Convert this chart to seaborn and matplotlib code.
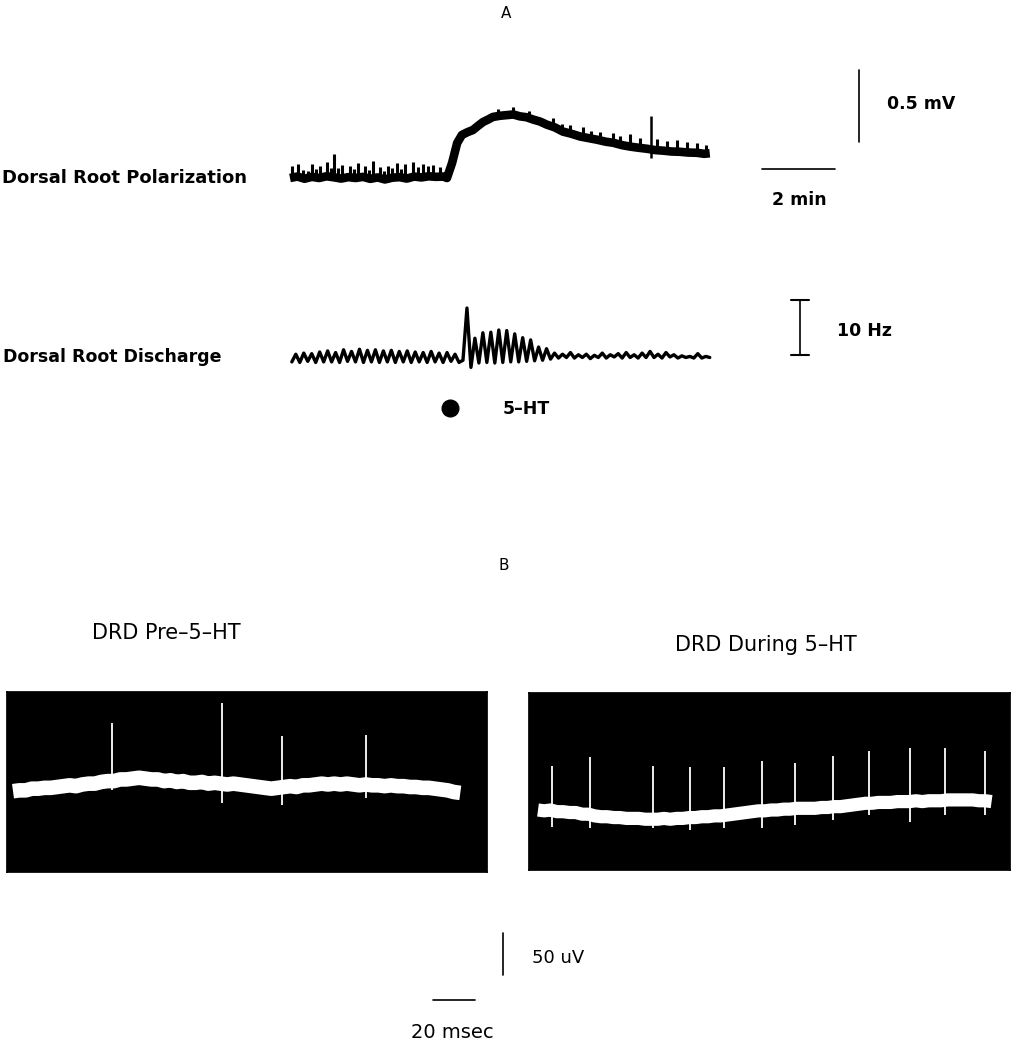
import numpy as np
import matplotlib
matplotlib.use("Agg")
import matplotlib.pyplot as plt
import seaborn as sns

sns.set_theme(style="white")
plt.rcParams['font.family'] = ['DejaVu Sans']

# ---------------- DATA ----------------
# Panel A: dorsal root polarization, time in min, value in mV
pol_t = [0.0, 0.2, 0.4, 0.6, 0.8, 1.0, 1.2, 1.4, 1.6, 1.8, 2.0, 2.2, 2.4, 2.6, 2.8, 3.0,
         3.2, 3.4, 3.6, 3.8, 4.0, 4.2, 4.30, 4.44, 4.58, 4.71, 4.86, 5.01, 5.15, 5.29,
         5.42, 5.56, 5.75, 5.95, 6.12, 6.30, 6.48, 6.66, 6.85, 7.04, 7.25, 7.48, 7.70,
         7.95, 8.20, 8.41, 8.65, 8.85, 9.10, 9.32, 9.55, 9.78, 10.0, 10.22, 10.45, 10.68,
         10.90, 11.15, 11.35, 11.5]
pol_v = [0.0, 0.01, -0.005, 0.008, 0.0, 0.012, 0.005, -0.004, 0.006, 0.0, 0.008, -0.006,
         0.004, -0.01, 0.002, 0.006, -0.004, 0.01, 0.004, 0.012, 0.008, 0.01, 0.0, 0.104,
         0.243, 0.299, 0.318, 0.333, 0.362, 0.389, 0.405, 0.424, 0.432, 0.437, 0.441, 0.428,
         0.422, 0.406, 0.392, 0.370, 0.352, 0.322, 0.308, 0.288, 0.276, 0.266, 0.252, 0.245,
         0.228, 0.218, 0.210, 0.203, 0.194, 0.190, 0.184, 0.182, 0.177, 0.175, 0.168, 0.172]
# small noise spikes riding on the polarization trace: time (min), height above trace (mV)
pol_spike_t = [0.05, 0.22, 0.36, 0.50, 0.60, 0.72, 0.82, 1.01, 1.12, 1.21, 1.32, 1.42,
               1.64, 1.75, 1.86, 2.05, 2.16, 2.27, 2.47, 2.58, 2.68, 2.80, 2.93, 3.04,
               3.15, 3.37, 3.50, 3.64, 3.78, 3.92, 4.11,
               5.70, 6.10, 6.55, 7.21, 7.45, 7.67, 8.03, 8.25, 8.49, 8.85, 9.05, 9.32,
               9.59, 10.05, 10.33, 10.60, 10.88, 11.15, 11.40]
pol_spike_h = [0.08, 0.09, 0.06, 0.05, 0.09, 0.06, 0.08, 0.10, 0.06, 0.16, 0.07, 0.09,
               0.08, 0.06, 0.10, 0.08, 0.06, 0.12, 0.08, 0.06, 0.09, 0.07, 0.10, 0.06,
               0.10, 0.10, 0.07, 0.09, 0.07, 0.08, 0.07,
               0.05, 0.05, 0.05, 0.06, 0.05, 0.06, 0.07, 0.05, 0.06, 0.07, 0.06, 0.09,
               0.07, 0.08, 0.07, 0.08, 0.07, 0.07, 0.06]
# large artifact on the polarization trace: time, low, high (mV)
pol_art_t, pol_art_lo, pol_art_hi = 9.89, 0.139, 0.43

# Panel A: dorsal root discharge (Hz), alternating troughs and peaks
drd_rate = [0.2, 1.6, 0.1, 1.8, 0.3, 1.7, 0.1, 2.0, 0.2, 2.2, 0.2, 1.9, 0.1, 2.4, 0.3, 2.1,
            0.2, 2.5, 0.1, 2.3, 0.2, 2.4, 0.1, 2.2, 0.2, 2.3, 0.1, 2.1, 0.2, 2.2, 0.1, 2.0,
            0.2, 1.9, 0.1, 2.1, 0.2, 1.8, 0.1, 1.9, 0.3, 1.6, 0.1, 0.5,
            10.0, -0.8, 4.5, 0.0, 5.5, 0.1, 5.6, 0.0, 6.0, 0.1, 5.9, 0.2, 5.3, 0.2, 4.6, 0.3,
            4.2, 0.4, 2.9, 0.5, 2.6, 0.7,
            1.8, 0.9, 1.6, 1.0, 1.9, 0.9, 1.5, 1.0, 1.6, 0.8, 1.4, 1.0, 1.8, 0.9, 1.5, 1.1,
            1.7, 0.9, 1.9, 1.0, 1.5, 0.9, 1.8, 1.0, 2.1, 1.0, 1.6, 0.9, 1.9, 1.1, 1.5, 0.9,
            1.3, 1.0, 1.2, 0.9, 1.7, 0.9, 1.2, 1.0]
drd_t_start, drd_t_end = 0.05, 11.5
ht_time = 4.38  # 5-HT application (min)

# Panel B: oscilloscope traces (uV), sampled every 3 ms
pre_uv = [-5, -4, -4, -2, -2, -1, -1, 0, 1, 2, 1, 3, 4, 4, 6, 7, 7, 9, 9, 10, 11, 10,
          9, 9, 7, 8, 6, 7, 5, 5, 6, 4, 5, 4, 3, 4, 3, 2, 1, 0, -1, -2, -1, 0, 1, 0,
          2, 2, 3, 4, 3, 4, 3, 4, 3, 2, 3, 2, 2, 1, 2, 1, 1, 0, 0, -1, -1, -2, -3, -4,
          -6, -7]
pre_spike_t = [47, 99.5, 128, 168]
pre_spike_top = [76, 100, 61, 62]
pre_spike_bot = [-3, -19, -21, -13]

dur_uv = [0, -1, 0, -2, -2, -3, -3, -5, -5, -7, -8, -8, -9, -9, -10, -10, -10, -11, -11, -11,
          -10, -11, -10, -10, -9, -9, -8, -8, -7, -7, -6, -5, -4, -3, -2, -1, -1, 0, 0, 1,
          1, 2, 2, 2, 2, 3, 3, 4, 4, 5, 6, 7, 8, 8, 9, 9, 9, 10, 10, 10, 11, 10, 11, 11,
          11, 12, 12, 12, 12, 12, 11, 11, 10]
dur_spike_t = [6.7, 24.8, 54.8, 72.4, 88.6, 106.7, 122.4, 140.5, 157.6, 177.0, 193.8, 213.0]
dur_spike_top = [52, 63, 52, 51, 51, 58, 56, 64, 70, 74, 74, 70]
dur_spike_bot = [-20, -21, -21, -24, -21, -21, -18, -12, -6, -14, -6, -6]
sample_ms = 3.0

# ---------------- LAYOUT ----------------
W, H = 1011, 1050
fig = plt.figure(figsize=(W / 100, H / 100), dpi=100)
fig.patch.set_facecolor("white")


def px_axes(box, x0px, y0px, sx, sy, dark=False):
    l, t, r, b = box
    ax = fig.add_axes([l / W, 1 - b / H, (r - l) / W, (b - t) / H])
    ax.set_xlim((l - x0px) / sx, (r - x0px) / sx)
    ax.set_ylim((y0px - b) / sy, (y0px - t) / sy)
    if dark:
        ax.set_facecolor("black")
        ax.set_xticks([])
        ax.set_yticks([])
        for s in ax.spines.values():
            s.set_color("black")
    else:
        ax.axis("off")
    return ax


def ftext(x, y, s, **kw):
    fig.text(x / W, 1 - y / H, s, **kw)


bold = dict(fontweight="bold", color="black", va="center")
reg = dict(color="black", va="center")

# Panel titles
ftext(506, 13, "A", ha="center", fontsize=11, **reg)
ftext(504, 565, "B", ha="center", fontsize=11, **reg)

# ---------- Polarization ----------
ax_p = px_axes((280, 55, 1005, 235), 290, 178, 36.5, 144)
sns.lineplot(x=pol_t, y=pol_v, ax=ax_p, color="black", linewidth=6.2,
             estimator=None, sort=False, solid_capstyle="butt")
base = np.interp(pol_spike_t, pol_t, pol_v)
ax_p.vlines(pol_spike_t, base, base + np.array(pol_spike_h), color="black", linewidth=2.2)
ax_p.vlines([pol_art_t], [pol_art_lo], [pol_art_hi], color="black", linewidth=1.8)
# scale bars
ax_p.plot([15.59, 15.59], [0.25, 0.75], color="black", linewidth=1.2, clip_on=False)
ax_p.plot([12.93, 14.93], [0.0625, 0.0625], color="black", linewidth=1.2, clip_on=False)
ftext(2, 178, "Dorsal Root Polarization", ha="left", fontsize=13, **bold)
ftext(887, 104, "0.5 mV", ha="left", fontsize=12.5, **bold)
ftext(799, 200, "2 min", ha="center", fontsize=12.5, **bold)

# ---------- Discharge ----------
ax_d = px_axes((280, 285, 1005, 430), 290, 363, 36.5, 5.5)
drd_t = np.linspace(drd_t_start, drd_t_end, len(drd_rate))
sns.lineplot(x=drd_t, y=drd_rate, ax=ax_d, color="black", linewidth=2.4,
             estimator=None, sort=False)
bar_t = 13.97
ax_d.plot([bar_t, bar_t], [1.45, 11.45], color="black", linewidth=1.2, clip_on=False)
ax_d.plot([bar_t - 0.25, bar_t + 0.25], [1.45, 1.45], color="black", linewidth=1.5, clip_on=False)
ax_d.plot([bar_t - 0.25, bar_t + 0.25], [11.45, 11.45], color="black", linewidth=1.5, clip_on=False)
ax_d.plot([ht_time], [-8.2], marker="o", markersize=12, color="black", clip_on=False)
ftext(3, 357, "Dorsal Root Discharge", ha="left", fontsize=12.5, **bold)
ftext(837, 331, "10 Hz", ha="left", fontsize=12.5, **bold)
ftext(503, 409, "5\u2013HT", ha="left", fontsize=12.5, **bold)

# ---------- Panel B ----------
ax_l = px_axes((7, 692, 487, 872), 13, 787, 2.1, 0.84, dark=True)
pre_t = np.arange(len(pre_uv)) * sample_ms
sns.lineplot(x=pre_t, y=pre_uv, ax=ax_l, color="white", linewidth=10.5,
             estimator=None, sort=False, solid_capstyle="butt")
ax_l.vlines(pre_spike_t, pre_spike_bot, pre_spike_top, color="white", linewidth=1.3)

ax_r = px_axes((529, 693, 1010, 870), 538, 810, 2.1, 0.84, dark=True)
dur_t = np.arange(len(dur_uv)) * sample_ms
sns.lineplot(x=dur_t, y=dur_uv, ax=ax_r, color="white", linewidth=9.5,
             estimator=None, sort=False, solid_capstyle="butt")
ax_r.vlines(dur_spike_t, dur_spike_bot, dur_spike_top, color="white", linewidth=1.3)

ftext(166, 633, "DRD Pre\u20135\u2013HT", ha="center", fontsize=15, **reg)
ftext(766, 645, "DRD During 5\u2013HT", ha="center", fontsize=15, **reg)

# scale bars for B
ax_s = px_axes((400, 915, 620, 1048), 433, 1000, 2.1, 0.84)
ax_s.plot([0, 20], [0, 0], color="black", linewidth=1.2)
ax_s.plot([33.3, 33.3], [29.8, 79.8], color="black", linewidth=1.2)
ftext(532, 958, "50 uV", ha="left", fontsize=13, **reg)
ftext(452, 1032, "20 msec", ha="center", fontsize=14, **reg)

fig.savefig("out.png", dpi=100, facecolor="white")
